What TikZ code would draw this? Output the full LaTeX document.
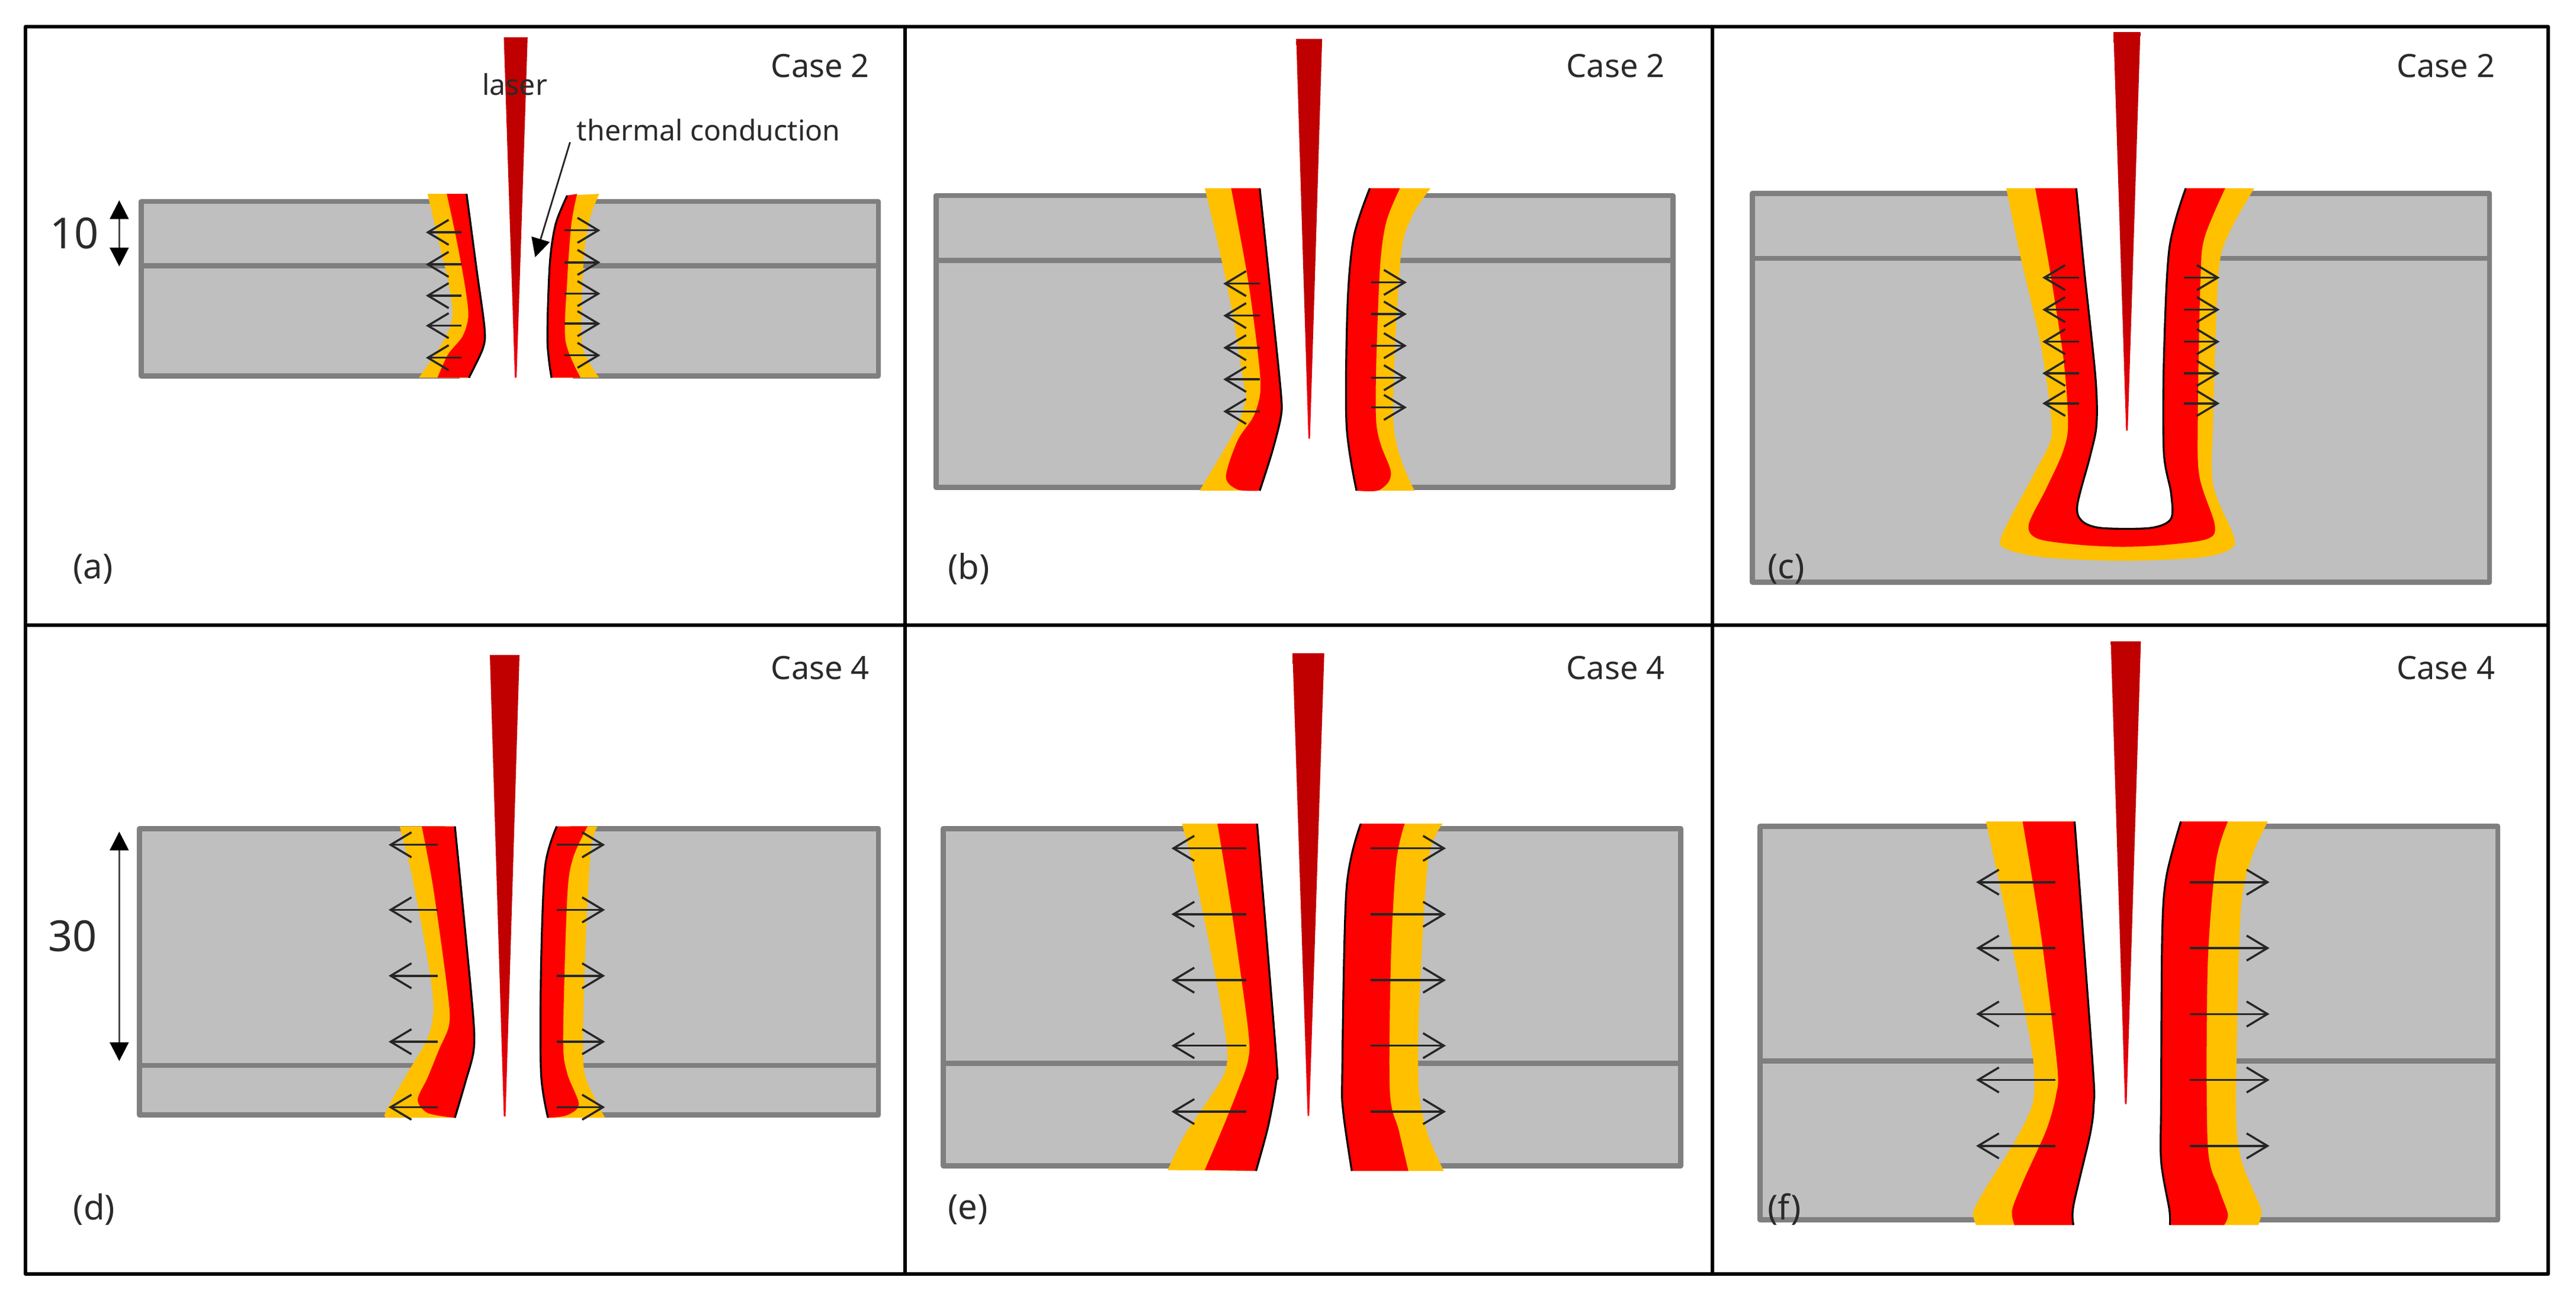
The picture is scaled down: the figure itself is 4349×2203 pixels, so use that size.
\documentclass[tikz,border=0pt]{standalone}
\usepackage{fontspec}
\setmainfont{Noto Sans}
\usetikzlibrary{arrows.meta}
\definecolor{meltorange}{HTML}{FFC000}
\definecolor{meltred}{HTML}{FF0000}
\definecolor{platefill}{HTML}{BFBFBF}
\definecolor{plateedge}{HTML}{7F7F7F}
\definecolor{laserbody}{HTML}{C00000}
\definecolor{lasertip}{HTML}{F00010}
\definecolor{labelink}{HTML}{2A2A2A}
\pgfdeclareverticalshading{laserfill}{100bp}{color(0bp)=(lasertip); color(25bp)=(lasertip); color(42bp)=(laserbody); color(100bp)=(laserbody)}
\tikzset{
  frameline/.style={draw=black,line width=1.7pt},
  plate/.style={fill=platefill,draw=plateedge,line width=2.5pt,line join=round},
  plateline/.style={draw=plateedge,line width=2.5pt},
  heatarrow/.style={draw=black!85,line width=1pt,-{Straight Barb[length=10pt,width=12pt,line width=1pt]}},
  dimarrow/.style={draw=black!70,line width=.9pt,{Triangle[length=9pt,width=9pt,color=black]}-{Triangle[length=9pt,width=9pt,color=black]}},
  caselabel/.style={font=\fontsize{15.4}{17}\selectfont,text=labelink,inner sep=0pt},
  panellabel/.style={font=\fontsize{16.5}{18}\selectfont,text=labelink,inner sep=0pt},
  dimlabel/.style={font=\fontsize{20.5}{22}\selectfont,text=labelink,inner sep=0pt},
  notelabel/.style={font=\fontsize{13.7}{15}\selectfont,text=labelink,inner sep=0pt},
  zoomA/.style={shift={(0,0)},xscale=.98214,yscale=.67602},
  zoomB/.style={shift={(1500,0)},xscale=.89286,yscale=.67602},
  zoomC/.style={shift={(2900,0)},xscale=.92411,yscale=.67602},
  zoomD/.style={shift={(0,1040)},xscale=.98214,yscale=.74171},
  zoomE/.style={shift={(1500,1040)},xscale=.89286,yscale=.74171},
  zoomF/.style={shift={(2900,1040)},xscale=.92411,yscale=.74171},
}
% outer (top to bottom), boundary (top to bottom), inner (bottom to top)
\newcommand{\meltzone}[3]{%
  \fill[meltorange] plot[smooth] coordinates {#1} -- plot[smooth] coordinates {#3} -- cycle;
  \fill[meltred] plot[smooth] coordinates {#2} -- plot[smooth] coordinates {#3} -- cycle;
  \draw[black,line width=.9pt] plot[smooth] coordinates {#3};
}
\newcommand{\keyhole}[4]{\fill[white] (#1,#3) rectangle (#2,#4);}
\newcommand{\heatarrows}[3]{\foreach \yy in {#3} {\draw[heatarrow] (#1,\yy) -- (#2,\yy);}}
\newcommand{\laserbeam}[4]{\shade[shading=laserfill] (#1,#3) -- (#2,#3) -- ({(#1+#2)/2+1.5},#4) -- ({(#1+#2)/2-1.5},#4) -- cycle;}
\begin{document}
\begin{tikzpicture}[x=0.01cm,y=-0.01cm]
\useasboundingbox (0,0) rectangle (4349,2203);
\fill[white] (0,0) rectangle (4349,2203);

% panel a
\begin{scope}[zoomA]
  \draw[plate] (243,503) rectangle (1510,938);
  \draw[plateline] (243,663) -- (1510,663);
  \keyhole{790}{985}{488}{953}
  \meltzone{(735,484) (752,590) (770,700) (778,780) (770,830) (750,880) (720,943)}
           {(768,484) (785,600) (800,720) (805,790) (795,840) (770,885) (752,943)}
           {(806,943) (830,870) (833,820) (820,680) (802,484)}
  \meltzone{(1030,484) (1015,540) (1005,620) (1000,750) (1002,870) (1030,943)}
           {(992,484) (982,560) (975,700) (972,850) (998,943)}
           {(948,943) (941,850) (945,660) (955,560) (975,488)}
  \heatarrows{793}{732}{580,660,738,813,893}
  \heatarrows{970}{1032}{575,655,733,808,887}
  \laserbeam{866}{907}{93}{943}
  \node[dimlabel] (ten) at (128,582) {10};
  \coordinate (tenTop) at (205,500);
  \coordinate (tenBot) at (205,665);
  \draw[dimarrow] (tenTop) -- (tenBot);
  \node[caselabel] (casea) at (1410,165) {Case 2};
  \node[panellabel] (labela) at (160,1420) {(a)};
  \node[notelabel] (laser) at (885,210) {laser};
  \node[notelabel] (thermal) at (1218,325) {thermal conduction};
  \coordinate (thermalTail) at (980,355);
  \coordinate (thermalHead) at (920,642);
  \draw[draw=black!85,line width=.8pt,-{Triangle[length=9pt,width=9pt,color=black]}] (thermalTail) -- (thermalHead);
\end{scope}

% panel b
\begin{scope}[zoomB]
  \draw[plate] (90,488) rectangle (1483,1217);
  \draw[plateline] (90,650) -- (1483,650);
  \keyhole{690}{930}{474}{1230}
  \meltzone{(598,470) (625,620) (650,780) (672,960) (675,1000) (655,1075) (588,1225)}
           {(648,470) (680,700) (700,900) (703,980) (690,1040) (660,1100) (638,1190) (660,1222) (700,1225)}
           {(702,1225) (725,1130) (742,1040) (742,980) (725,760) (702,470)}
  \meltzone{(1025,470) (990,540) (968,650) (955,1060) (995,1225)}
           {(967,470) (940,560) (928,700) (922,1050) (950,1180) (930,1222) (900,1226)}
           {(885,1225) (866,1060) (868,760) (880,590) (910,470)}
  \heatarrows{702}{633}{708,788,868,947,1027}
  \heatarrows{913}{980}{705,784,863,943,1017}
  \laserbeam{771}{820}{97}{1095}
  \node[caselabel] (caseb) at (1375,165) {Case 2};
  \node[panellabel] (labelb) at (152,1420) {(b)};
\end{scope}

% panel c
\begin{scope}[zoomC]
  \draw[plate] (63,483) rectangle (1410,1453);
  \draw[plateline] (63,645) -- (1410,645);
  \fill[meltorange] plot[smooth,tension=.5] coordinates {(527,470) (553,640) (590,860) (608,1030) (608,1100) (575,1190) (518,1340) (530,1372) (600,1392) (740,1400) (880,1392) (935,1372) (943,1340) (905,1210) (905,1050) (915,680) (935,580) (980,470)} -- cycle;
  \fill[meltred] plot[smooth,tension=.5] coordinates {(580,470) (605,660) (632,900) (640,1060) (630,1130) (600,1220) (568,1310) (585,1345) (660,1360) (740,1365) (820,1360) (895,1345) (908,1310) (880,1190) (877,1050) (882,690) (890,590) (927,470)} -- cycle;
  \fill[white] plot[smooth,tension=.5] coordinates {(655,470) (670,680) (690,940) (692,1060) (680,1140) (657,1260) (665,1300) (700,1318) (790,1318) (828,1295) (828,1230) (815,1130) (815,900) (825,620) (855,470)} -- (855,440) -- (655,440) -- cycle;
  \draw[black,line width=.9pt] plot[smooth,tension=.5] coordinates {(655,470) (670,680) (690,940) (692,1060) (680,1140) (657,1260) (665,1300) (700,1318) (790,1318) (828,1295) (828,1230) (815,1130) (815,900) (825,620) (855,470)};
  \heatarrows{660}{593}{693,773,853,932,1007}
  \heatarrows{852}{917}{693,773,853,932,1007}
  \laserbeam{723}{772}{80}{1075}
  \node[caselabel] (casec) at (1330,165) {Case 2};
  \node[panellabel] (labelc) at (125,1420) {(c)};
\end{scope}

% panel d
\begin{scope}[zoomD]
  \draw[plate] (240,483) rectangle (1510,1135);
  \draw[plateline] (240,1022) -- (1510,1022);
  \keyhole{765}{980}{470}{1148}
  \meltzone{(687,478) (708,590) (735,780) (745,890) (735,960) (700,1040) (662,1130) (668,1141)}
           {(725,478) (745,620) (770,860) (772,930) (755,985) (735,1050) (718,1100) (735,1130) (780,1141)}
           {(782,1141) (800,1060) (814,990) (814,920) (800,720) (782,478)}
  \meltzone{(1027,478) (1015,540) (1005,800) (1003,1020) (1020,1090) (1040,1141)}
           {(1010,478) (985,550) (975,640) (968,960) (975,1040) (995,1110) (975,1135) (945,1141)}
           {(942,1141) (930,1040) (930,800) (937,570) (957,478)}
  \heatarrows{752}{668}{520,668,818,968,1117}
  \heatarrows{957}{1040}{520,668,818,968,1117}
  \laserbeam{842}{893}{88}{1138}
  \node[dimlabel] (thirty) at (125,728) {30};
  \coordinate (thirtyTop) at (205,490);
  \coordinate (thirtyBot) at (205,1012);
  \draw[dimarrow] (thirtyTop) -- (thirtyBot);
  \node[caselabel] (cased) at (1410,118) {Case 4};
  \node[panellabel] (labeld) at (162,1350) {(d)};
\end{scope}

% panel e
\begin{scope}[zoomE]
  \draw[plate] (104,483) rectangle (1498,1250);
  \draw[plateline] (104,1017) -- (1498,1017);
  \keyhole{670}{950}{470}{1264}
  \meltzone{(555,472) (580,590) (620,830) (640,980) (635,1040) (605,1100) (560,1180) (528,1260)}
           {(622,472) (650,680) (680,940) (680,1010) (660,1080) (630,1170) (598,1260)}
           {(695,1262) (718,1160) (733,1060) (733,1000) (697,472)}
  \meltzone{(1048,472) (1020,560) (1003,900) (1003,1080) (1020,1180) (1050,1262)}
           {(976,472) (960,560) (950,780) (948,1080) (965,1170) (983,1262)}
           {(876,1262) (860,1130) (858,1040) (866,620) (893,472)}
  \heatarrows{676}{535}{528,678,828,977,1127}
  \heatarrows{912}{1054}{528,678,828,977,1127}
  \laserbeam{764}{824}{84}{1137}
  \node[caselabel] (casee) at (1375,118) {Case 4};
  \node[panellabel] (labele) at (150,1350) {(e)};
\end{scope}

% panel f
\begin{scope}[zoomF]
  \draw[plate] (77,478) rectangle (1425,1373);
  \draw[plateline] (77,1012) -- (1425,1012);
  \keyhole{615}{900}{465}{1388}
  \meltzone{(490,467) (525,670) (570,960) (578,1040) (575,1110) (545,1190) (490,1300) (467,1355) (472,1385)}
           {(557,467) (590,720) (620,1020) (618,1090) (600,1170) (560,1280) (538,1350) (542,1385)}
           {(650,1385) (650,1340) (680,1180) (687,1110) (685,1020) (652,467)}
  \meltzone{(1005,467) (975,550) (955,680) (947,1100) (955,1230) (990,1340) (993,1360) (988,1385)}
           {(932,467) (910,560) (895,800) (895,1200) (915,1300) (932,1360) (925,1385)}
           {(826,1385) (825,1350) (810,1240) (810,1100) (812,720) (820,590) (846,467)}
  \heatarrows{617}{472}{605,755,905,1055,1205}
  \heatarrows{862}{1008}{605,755,905,1055,1205}
  \laserbeam{718}{773}{57}{1110}
  \node[caselabel] (casef) at (1330,118) {Case 4};
  \node[panellabel] (labelf) at (122,1350) {(f)};
\end{scope}

% frame
\draw[frameline,line join=round] (43,45) rectangle (4302,2150);
\draw[frameline] (43,1055) -- (4302,1055);
\draw[frameline] (1528,45) -- (1528,2150);
\draw[frameline] (2891,45) -- (2891,2150);
\end{tikzpicture}
\end{document}
